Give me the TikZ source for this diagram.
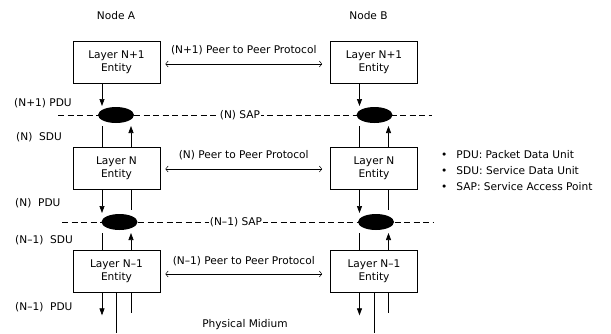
\documentclass[tikz,border=0pt]{standalone}
\usepackage{fontspec}
\setmainfont{DejaVu Sans}
\usetikzlibrary{arrows.meta,shapes.geometric,calc}
\begin{document}
\begin{tikzpicture}[x=1pt,y=-1pt,
  every node/.style={font=\fontsize{10.6}{13}\selectfont, inner sep=0pt},
  entity/.style={draw, line width=0.7pt, minimum width=87pt, minimum height=42pt, align=center},
  sapdot/.style={fill=black, ellipse, minimum width=36pt, minimum height=16pt, outer sep=0pt},
  vline/.style={line width=0.7pt},
  varr/.style={line width=0.7pt, -{Triangle[length=7pt,width=5pt]}},
  peer/.style={line width=0.5pt, {Straight Barb[length=2.5pt,width=6pt]}-{Straight Barb[length=2.5pt,width=6pt]}},
  sapline/.style={line width=0.6pt, dash pattern=on 6pt off 3.5pt},
  lbl/.style={anchor=west},
  saplbl/.style={fill=white, inner xsep=1pt, inner ysep=1pt}
]
\useasboundingbox (0,0) rectangle (611,333);

% titles
\node (na) at (116,16) {Node A};
\node (nb) at (368.5,16) {Node B};

% entities
\node[entity] (A1) at (116.5,62.5) {Layer N+1\\Entity};
\node[entity] (B1) at (374,62.5) {Layer N+1\\Entity};
\node[entity] (A2) at (116.5,168.5) {Layer N\\Entity};
\node[entity] (B2) at (374,168.5) {Layer N\\Entity};
\node[entity] (A3) at (116.5,271) {Layer N--1\\Entity};
\node[entity] (B3) at (374,271) {Layer N--1\\Entity};

% SAP lines
\coordinate (s1l) at (58,115);
\coordinate (s1r) at (432,115);
\coordinate (s2l) at (62,222);
\coordinate (s2r) at (433,222);
\draw[sapline] (s1l) -- (s1r);
\draw[sapline] (s2l) -- (s2r);
\node[saplbl] (sap1) at (240,115) {(N) SAP};
\node[saplbl] (sap2) at (236,222) {(N--1) SAP};

% SAP ellipses
\node[sapdot] (ea1) at (116,115) {};
\node[sapdot] (eb1) at (374.5,115) {};
\node[sapdot] (ea2) at (119.5,222) {};
\node[sapdot] (eb2) at (376,222) {};

% peer protocols
\draw[peer] ([xshift=5pt]A1.east |- 0,64) coordinate (p1a) -- ([xshift=-8pt]B1.west |- 0,64) coordinate (p1b);
\node (pl1) at ([yshift=14pt]$(p1a)!0.5!(p1b)$) {(N+1) Peer to Peer Protocol};
\draw[peer] ([xshift=5pt]A2.east |- 0,169) coordinate (p2a) -- ([xshift=-8pt]B2.west |- 0,169) coordinate (p2b);
\node (pl2) at ([yshift=14pt]$(p2a)!0.5!(p2b)$) {(N) Peer to Peer Protocol};
\draw[peer] ([xshift=5pt]A3.east |- 0,274) coordinate (p3a) -- ([xshift=-8pt]B3.west |- 0,274) coordinate (p3b);
\node (pl3) at ([yshift=13pt]$(p3a)!0.5!(p3b)$) {(N--1) Peer to Peer Protocol};

% vertical connectors, node A and node B
\foreach \u/\l/\e in {A1/A2/ea1, B1/B2/eb1, A2/A3/ea2, B2/B3/eb2}{
  \draw[varr] ([xshift=-14.5pt]\u.south) -- ([xshift=-14.5pt,yshift=9pt]\u.south |- \e.center);
  \draw[vline] ([xshift=-14.5pt]\l.north) -- ([xshift=-14.5pt,yshift=-11pt]\l.north |- \e.center);
  \draw[varr] ([xshift=14.5pt]\l.north) -- ([xshift=14.5pt,yshift=-11pt]\l.north |- \e.center);
}
\foreach \u/\e in {A2/ea2, B2/eb2}{
  \draw[vline] ([xshift=14.5pt]\u.south) -- ([xshift=14.5pt,yshift=12pt]\u.south |- \e.center);
}

% physical medium connections
\foreach \u in {A3, B3}{
  \draw[varr] ([xshift=-14.5pt]\u.south) -- ++(0,23);
  \draw[vline] (\u.south) -- (\u.south |- 0,333);
  \draw[vline] ([xshift=14.5pt]\u.south) -- ++(0,21);
}
\node (pm) at (245,325) {Physical Midium};

% left labels
\node[lbl] (l1) at (14,103) {(N+1) PDU};
\node[lbl] (l2) at (16,137) {(N)\ \ SDU};
\node[lbl] (l3) at (15,203) {(N)\ \ PDU};
\node[lbl] (l4) at (15,240) {(N--1)\ \ SDU};
\node[lbl] (l5) at (15,307) {(N--1)\ \ PDU};

% legend
\node[lbl] (g1) at (441,155) {•\hspace{9pt}PDU: Packet Data Unit};
\node[lbl] (g2) at (441,171) {•\hspace{9pt}SDU: Service Data Unit};
\node[lbl] (g3) at (441,187) {•\hspace{9pt}SAP: Service Access Point};
\end{tikzpicture}
\end{document}
